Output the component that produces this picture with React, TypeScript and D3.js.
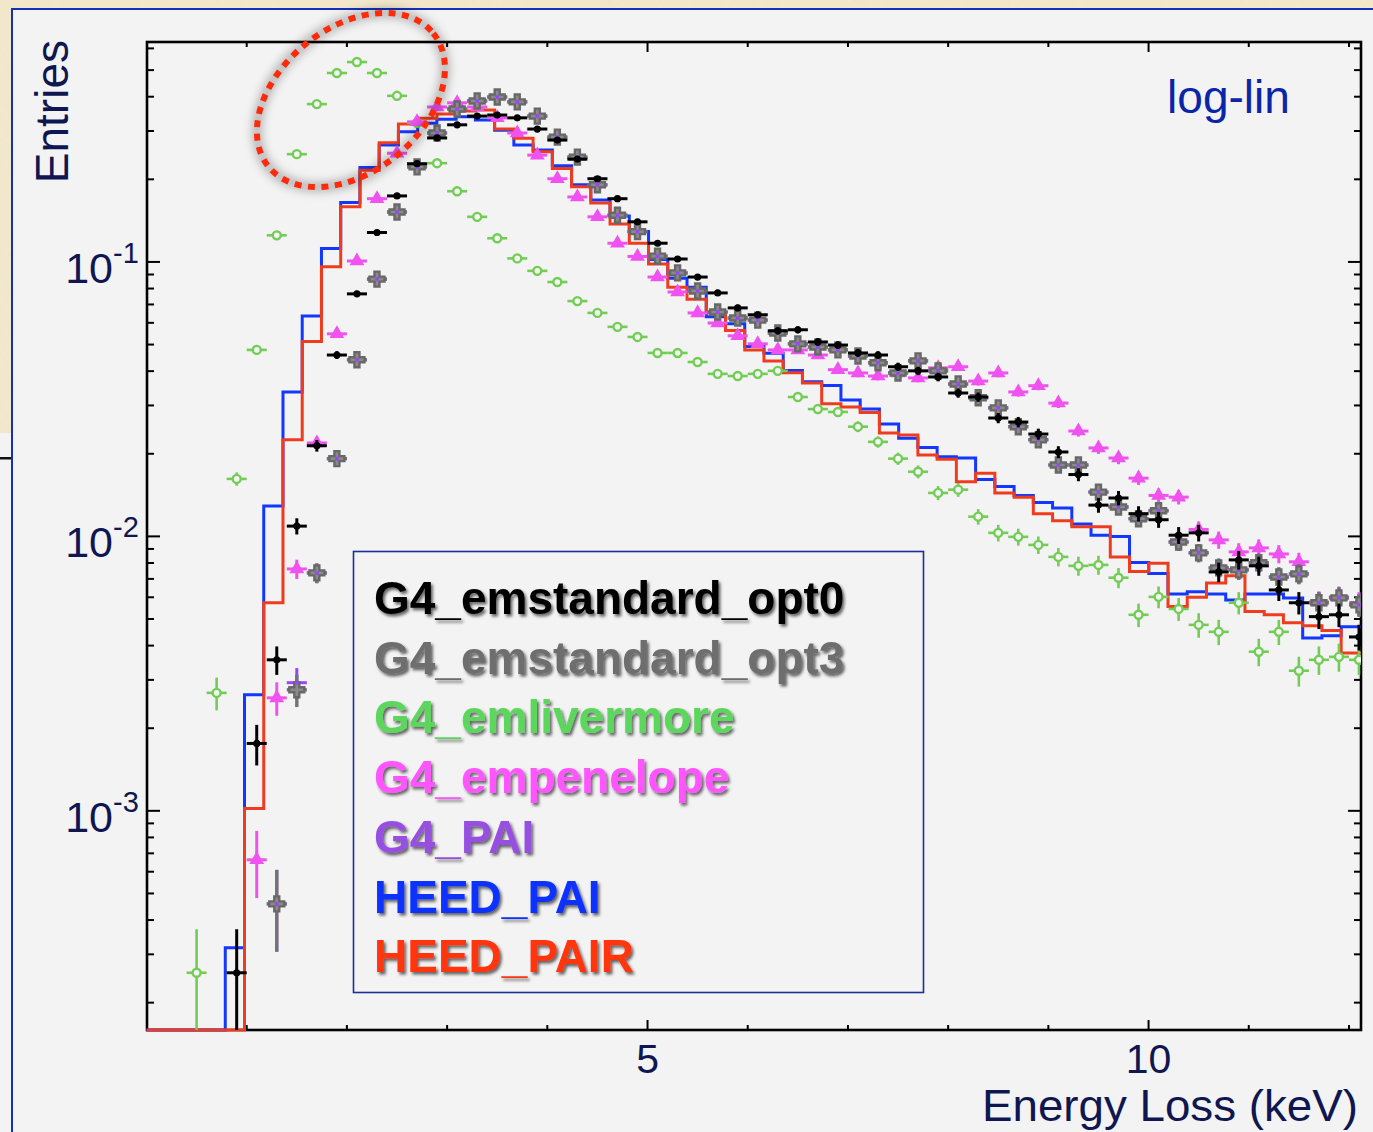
import React from 'react';
import * as d3 from 'd3';

const W = 1373;
const H = 1132;

// G4 histograms: 0.2 keV bins, centres 0.1 ... 12.1 keV
const BIN_CENTERS = d3.range(61).map((k) => 0.1 + 0.2 * k);
const BIN_HALF = 0.1;

// HEED histograms come with a slightly different binning
const HEED_X0 = 0.018;
const HEED_WIDTH = 0.192;

// entries per bin (normalised)
const opt0 = [null, null, null, null,
  2.57e-4, 1.76e-3, 3.55e-3, 0.0109, 0.0214, 0.0458, 0.0765, 0.128, 0.174, 0.228,
  0.283, 0.316, 0.340, 0.343, 0.335, 0.305, 0.278, 0.237, 0.201, 0.170,
  0.140, 0.117, 0.1025, 0.0881, 0.0771, 0.0680, 0.0642, 0.0561, 0.0566, 0.0511,
  0.0498, 0.0466, 0.0458, 0.0415, 0.0401, 0.0381, 0.0333, 0.0322, 0.0270, 0.0261,
  0.0236, 0.0203, 0.0168, 0.0130, 0.0138, 0.0121, 0.0115, 0.0101, 0.0103, 0.00742,
  0.00821, 0.00781, 0.00638, 0.00573, 0.00510, 0.00518, 0.00430];

const opt3 = [null, null, null, null, null, null,
  4.58e-4, 2.76e-3, 7.36e-3, 0.0192, 0.0440, 0.0866, 0.152, 0.222,
  0.295, 0.361, 0.386, 0.399, 0.383, 0.340, 0.285, 0.241, 0.191, 0.148,
  0.129, 0.105, 0.0912, 0.0784, 0.0657, 0.0625, 0.0614, 0.0551, 0.0503, 0.0490,
  0.0478, 0.0454, 0.0429, 0.0394, 0.0436, 0.0401, 0.0359, 0.0320, 0.0294, 0.0251,
  0.0225, 0.0182, 0.0182, 0.0145, 0.0128, 0.0116, 0.0124, 0.00954, 0.00871, 0.00768,
  0.00755, 0.00802, 0.00711, 0.00730, 0.00573, 0.00597, 0.00563];

const pai = [null, null, null, null, null, null,
  4.58e-4, 2.93e-3, 7.36e-3, 0.0192, 0.0440, 0.0866, 0.152, 0.222,
  0.295, 0.361, 0.386, 0.399, 0.383, 0.340, 0.285, 0.241, 0.191, 0.148,
  0.129, 0.105, 0.0912, 0.0784, 0.0657, 0.0625, 0.0614, 0.0551, 0.0503, 0.0490,
  0.0478, 0.0454, 0.0429, 0.0394, 0.0436, 0.0401, 0.0359, 0.0320, 0.0294, 0.0251,
  0.0225, 0.0182, 0.0182, 0.0145, 0.0128, 0.0116, 0.0124, 0.00954, 0.00871, 0.00768,
  0.00755, 0.00802, 0.00711, 0.00730, 0.00573, 0.00597, 0.00563];

const penelope = [null, null, null, null, null,
  6.63e-4, 2.58e-3, 7.61e-3, 0.0219, 0.0547, 0.1008, 0.170, 0.249, 0.324,
  0.367, 0.380, 0.367, 0.335, 0.295, 0.245, 0.201, 0.1725, 0.146, 0.117,
  0.1047, 0.0881, 0.0777, 0.0652, 0.0599, 0.0538, 0.0503, 0.0478, 0.0478, 0.0458,
  0.0405, 0.0394, 0.0384, 0.0394, 0.0378, 0.0411, 0.0415, 0.0368, 0.0394, 0.0336,
  0.0354, 0.0306, 0.0242, 0.0210, 0.0193, 0.0163, 0.0141, 0.0139, 0.0106, 0.00971,
  0.00878, 0.00908, 0.00863, 0.00808, 0.00577, 0.00602, 0.00573];

const livermore = [null, null,
  2.57e-4, 2.69e-3, 0.0162, 0.0478, 0.125, 0.247, 0.376, 0.488, 0.535, 0.488, 0.403, 0.321,
  0.229, 0.181, 0.146, 0.122, 0.103, 0.0928, 0.0845, 0.0720, 0.0652, 0.0580,
  0.0533, 0.0466, 0.0466, 0.0432, 0.0391, 0.0384, 0.0391, 0.0401, 0.0322, 0.0291,
  0.0284, 0.0251, 0.0221, 0.0192, 0.0172, 0.0144, 0.0148, 0.0118, 0.0103, 0.00996,
  0.00931, 0.00842, 0.00781, 0.00787, 0.00707, 0.00518, 0.00602, 0.00544, 0.00476, 0.00449,
  0.00573, 0.00380, 0.00449, 0.00324, 0.00355, 0.00364, 0.00355];

const heedPai = [0, 0, 0, 0,
  3.17e-4, 2.65e-3, 0.0129, 0.0336, 0.0636, 0.112, 0.1645, 0.221, 0.267, 0.298,
  0.320, 0.331, 0.338, 0.329, 0.302, 0.267, 0.256, 0.224, 0.191, 0.168,
  0.147, 0.129, 0.102, 0.0872, 0.0809, 0.0632, 0.0595, 0.0492, 0.0465, 0.0402,
  0.0366, 0.0355, 0.0314, 0.0291, 0.0257, 0.0228, 0.0211, 0.0195, 0.0193, 0.0161,
  0.0152, 0.0141, 0.0133, 0.0127, 0.0111, 0.0101, 0.0100, 0.00803, 0.00733, 0.00617,
  0.00629, 0.00617, 0.00587, 0.00617, 0.00617, 0.00596, 0.00426, 0.00434, 0.00469];

const heedPair = [0, 0, 0, 0, 0,
  1.02e-3, 5.73e-3, 0.0225, 0.0513, 0.0961, 0.159, 0.216, 0.272, 0.318,
  0.334, 0.346, 0.355, 0.358, 0.305, 0.282, 0.252, 0.219, 0.188, 0.164,
  0.1375, 0.117, 0.0983, 0.0809, 0.0731, 0.0652, 0.0562, 0.0478, 0.0436, 0.0395,
  0.0362, 0.0304, 0.0296, 0.0283, 0.0238, 0.0234, 0.0198, 0.0191, 0.0158, 0.0170,
  0.0144, 0.0139, 0.0121, 0.0114, 0.01085, 0.01085, 0.00841, 0.00745, 0.00798, 0.00555,
  0.00600, 0.00676, 0.00719, 0.00532, 0.00518, 0.00485, 0.00472, 0.00454, 0.00376];

// events per histogram, used for the poisson error bars
const N_EVENTS = 20000;

const LEGEND = [
  { name: 'G4_emstandard_opt0', color: '#000000' },
  { name: 'G4_emstandard_opt3', color: '#6e6e6e' },
  { name: 'G4_emlivermore', color: '#5cd65c' },
  { name: 'G4_empenelope', color: '#ff55ff' },
  { name: 'G4_PAI', color: '#9650e0' },
  { name: 'HEED_PAI', color: '#0a32ff' },
  { name: 'HEED_PAIR', color: '#ff3410' },
];

const Y_MAJOR = [1e-1, 1e-2, 1e-3];
const Y_LABELS = ['-1', '-2', '-3'];
const X_LABELS = [5, 10];

const COL = {
  black: '#000000',
  gray: '#737373',
  green: '#72cc55',
  magenta: '#f052f0',
  purple: '#9a44ff',
  blue: '#1238ff',
  red: '#f03c1e',
  navy: '#0f1650',
};

const FONT = '"Liberation Sans", Arial, Helvetica, sans-serif';

export default function App() {
  const left = 147, right = 1361, top = 42, bottom = 1030;
  const x = d3.scaleLinear().domain([0, 12.12]).range([146.5, right]);
  const y = d3.scaleLog().domain([1.59e-4, 0.633]).range([bottom, top]).clamp(true);
  const yv = (v) => (v > 0 ? y(v) : bottom);

  const points = (vals) =>
    vals
      .map((v, k) => ({ k, v }))
      .filter((d) => d.v != null && d.v > 0)
      .map((d) => {
        const s = Math.sqrt(d.v * N_EVENTS) / N_EVENTS;
        return {
          cx: x(BIN_CENTERS[d.k]),
          cy: y(d.v),
          x0: x(BIN_CENTERS[d.k] - BIN_HALF),
          x1: x(BIN_CENTERS[d.k] + BIN_HALF),
          y0: d.v - s > 0 ? y(d.v - s) : bottom + 4,
          y1: y(d.v + s),
          key: d.k,
        };
      });

  const stepLine = d3
    .line()
    .x((d) => x(d[0]))
    .y((d) => yv(d[1]))
    .curve(d3.curveStepAfter);

  const histPath = (vals) => {
    const pts = [[0, 0]];
    vals.forEach((v, i) => pts.push([HEED_X0 + HEED_WIDTH * i, v]));
    pts.push([HEED_X0 + HEED_WIDTH * vals.length, vals[vals.length - 1]]);
    pts.push([x.domain()[1] + 0.1, vals[vals.length - 1]]);
    return stepLine(pts);
  };

  // minor ticks of the log axis
  const yMinor = [];
  [1e-4, 1e-3, 1e-2, 1e-1].forEach((dec) => {
    for (let m = 2; m <= 9; m++) {
      const v = dec * m;
      if (v > y.domain()[0] && v < y.domain()[1]) yMinor.push(v);
    }
  });
  const xTicks = d3.range(1, 13);

  const crossSym = d3.symbol().type(d3.symbolCross).size(125)();
  const triSym = d3.symbol().type(d3.symbolTriangle).size(95)();

  const pOpt0 = points(opt0);
  const pOpt3 = points(opt3);
  const pPai = points(pai);
  const pPen = points(penelope);
  const pLiv = points(livermore);

  const bars = (p, color, w) => (
    <g stroke={color} strokeWidth={w} fill="none">
      {p.map((d) => (
        <g key={d.key}>
          <line x1={d.x0} x2={d.x1} y1={d.cy} y2={d.cy} />
          <line x1={d.cx} x2={d.cx} y1={d.y0} y2={d.y1} />
        </g>
      ))}
    </g>
  );

  // annotation ellipse (data coords of its centre)
  const ell = { kev: 2.04, val: 0.389, rx: 106, ry: 72, rot: -39 };

  return (
    <svg
      width={W}
      height={H}
      style={{ position: 'absolute', left: 0, top: 0, fontFamily: FONT }}
    >
      <defs>
        <clipPath id="plot">
          <rect x={left} y={top} width={right - left} height={bottom - top} />
        </clipPath>
        <clipPath id="plotHist">
          <rect x={left - 1} y={top} width={right - left + 1} height={bottom - top + 2} />
        </clipPath>
        <filter id="txtShadow" x="-5%" y="-20%" width="110%" height="150%">
          <feDropShadow dx="2" dy="2.5" stdDeviation="1.6" floodColor="#000" floodOpacity="0.6" />
        </filter>
        <filter id="halo" x="-30%" y="-30%" width="160%" height="160%">
          <feGaussianBlur stdDeviation="5" />
        </filter>
        <filter id="paper" x="0" y="0" width="100%" height="100%">
          <feTurbulence type="fractalNoise" baseFrequency="0.25" numOctaves="2" seed="3" />
          <feColorMatrix
            type="matrix"
            values="0 0 0 0 0.93  0 0 0 0 0.87  0 0 0 0 0.72  0 0 0 0.35 0"
          />
          <feComposite in2="SourceGraphic" operator="in" />
        </filter>
      </defs>

      {/* page background */}
      <rect x={0} y={0} width={W} height={H} fill="#f1e5c8" />
      <rect x={0} y={0} width={W} height={H} fill="#f1e5c8" filter="url(#paper)" />
      <rect x={0} y={433} width={12} height={H - 433} fill="#f3f3f3" />
      <rect x={0} y={457} width={12} height={2.5} fill="#111" />
      <rect x={12} y={9} width={W} height={H} fill="#f3f3f3" stroke="#1430b8" strokeWidth={2} />

      {/* frame and ticks */}
      <g stroke="#000" strokeWidth={2}>
        {Y_MAJOR.map((v) => (
          <g key={v}>
            <line x1={left} x2={left + 13} y1={y(v)} y2={y(v)} />
            <line x1={right} x2={right - 13} y1={y(v)} y2={y(v)} />
          </g>
        ))}
        {yMinor.map((v) => (
          <g key={v}>
            <line x1={left} x2={left + 7} y1={y(v)} y2={y(v)} />
            <line x1={right} x2={right - 7} y1={y(v)} y2={y(v)} />
          </g>
        ))}
        {xTicks.map((t) => {
          const len = t % 5 === 0 ? 10 : 5;
          return (
            <g key={t}>
              <line x1={x(t)} x2={x(t)} y1={bottom} y2={bottom - len} />
              <line x1={x(t)} x2={x(t)} y1={top} y2={top + len} />
            </g>
          );
        })}
      </g>
      <rect x={left} y={top} width={right - left} height={bottom - top} fill="none" stroke="#000" strokeWidth={2.6} />

      {/* HEED step histograms, drawn over the frame like the original */}
      <g clipPath="url(#plotHist)">
        <path d={histPath(heedPai)} fill="none" stroke={COL.blue} strokeWidth={3} />
        <path d={histPath(heedPair)} fill="none" stroke={COL.red} strokeWidth={3} />
      </g>

      {/* G4 points */}
      <g clipPath="url(#plot)">
        {/* G4_emlivermore */}
        {bars(pLiv, COL.green, 2.6)}
        {pLiv.map((d) => (
          <circle key={d.key} cx={d.cx} cy={d.cy} r={4} fill="#f3f3f3" stroke={COL.green} strokeWidth={2.4} />
        ))}

        {/* G4_empenelope */}
        {bars(pPen, COL.magenta, 3)}
        {pPen.map((d) => (
          <path key={d.key} d={triSym} transform={`translate(${d.cx},${d.cy})`} fill={COL.magenta} />
        ))}

        {/* G4_PAI under opt3 */}
        {bars(pPai, COL.purple, 3)}

        {/* G4_emstandard_opt3 */}
        {bars(pOpt3, COL.gray, 3.4)}
        {pOpt3.map((d) => (
          <path
            key={d.key}
            d={crossSym}
            transform={`translate(${d.cx},${d.cy})`}
            fill="#8a8a8a"
            stroke="#686868"
            strokeWidth={2.4}
          />
        ))}
        {pPai.map((d) => (
          <circle key={d.key} cx={d.cx} cy={d.cy} r={2} fill={COL.purple} />
        ))}

        {/* G4_emstandard_opt0 */}
        {bars(pOpt0, COL.black, 3)}
        {pOpt0.map((d) => (
          <circle key={d.key} cx={d.cx} cy={d.cy} r={3.6} fill={COL.black} />
        ))}
      </g>

      {/* y labels */}
      {Y_MAJOR.map((v, i) => (
        <g key={v} fill={COL.navy}>
          <text x={113} y={y(v) + 21} fontSize={43} textAnchor="end">10</text>
          <text x={113} y={y(v) + 1} fontSize={29}>{Y_LABELS[i]}</text>
        </g>
      ))}
      {X_LABELS.map((t) => (
        <text key={t} x={x(t)} y={1073} fontSize={41} textAnchor="middle" fill={COL.navy}>
          {t}
        </text>
      ))}
      <text x={1358} y={1121} fontSize={44} textAnchor="end" fill={COL.navy} textLength={376} lengthAdjust="spacingAndGlyphs">
        Energy Loss (keV)
      </text>
      <text
        transform="translate(68,40) rotate(-90)"
        fontSize={46}
        textAnchor="end"
        fill={COL.navy}
      >
        Entries
      </text>
      <text x={1167} y={113} fontSize={47} fill="#0b25a8" textLength={123} lengthAdjust="spacingAndGlyphs">
        log-lin
      </text>

      {/* legend */}
      <rect x={353.5} y={551.5} width={570} height={441} fill="none" stroke="#1b2f9c" strokeWidth={1.6} />
      {LEGEND.map((d, i) => (
        <text
          key={d.name}
          x={374}
          y={614 + i * 59.7}
          fontSize={46}
          fontWeight="bold"
          fill={d.color}
          filter="url(#txtShadow)"
        >
          {d.name}
        </text>
      ))}

      {/* annotation */}
      <g transform={`translate(${x(ell.kev)},${y(ell.val)}) rotate(${ell.rot})`}>
        <ellipse rx={ell.rx} ry={ell.ry} fill="none" stroke="#000" strokeOpacity={0.28} strokeWidth={9} filter="url(#halo)" />
        <ellipse rx={ell.rx} ry={ell.ry} fill="none" stroke="#ff2a0a" strokeWidth={6} strokeDasharray="7 6.5" />
      </g>
    </svg>
  );
}
